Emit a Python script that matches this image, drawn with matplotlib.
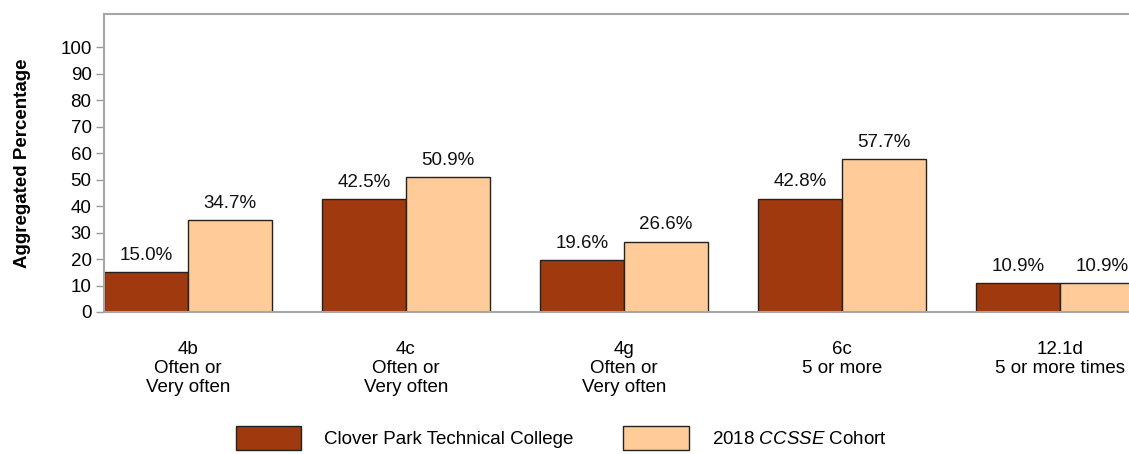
import matplotlib
matplotlib.use("Agg")
import matplotlib.pyplot as plt
import numpy as np

categories = ["4b\nOften or\nVery often", "4c\nOften or\nVery often", "4g\nOften or\nVery often",
              "6c\n5 or more", "12.1d\n5 or more times"]
college = [15.0, 42.5, 19.6, 42.8, 10.9]
cohort = [34.7, 50.9, 26.6, 57.7, 10.9]
series_names = ["Clover Park Technical College", "2018 $\\it{CCSSE}$ Cohort"]
yticks = list(range(0, 101, 10))

plt.rcParams['font.family'] = ['Liberation Sans', 'DejaVu Sans']
plt.rcParams['mathtext.fontset'] = 'custom'
plt.rcParams['mathtext.it'] = 'Liberation Sans:italic'
plt.rcParams['mathtext.rm'] = 'Liberation Sans'

FS = 13.5
fig = plt.figure(figsize=(11.29, 4.54), dpi=100)
ax = fig.add_axes([104/1129, 1-312/454, 1-104/1129, (312-14)/454])

x = np.arange(len(categories))
w = 0.385
dark = "#A0390E"
light = "#FFCC99"
b1 = ax.bar(x - w/2, college, w, color=dark, edgecolor="#222222", linewidth=1, label=series_names[0])
b2 = ax.bar(x + w/2, cohort, w, color=light, edgecolor="#222222", linewidth=1, label=series_names[1])
for b in (b1, b2):
    ax.bar_label(b, fmt="%.1f%%", padding=6, fontsize=FS, color="#111111")

ax.set_xlim(-w, -w + 1025/218)
ax.set_ylim(0, 112.5)
ax.set_yticks(yticks)
ax.set_xticks(x)
ax.set_xticklabels(categories, fontsize=FS, linespacing=1.15)
ax.tick_params(axis='x', length=0, pad=21)
ax.tick_params(axis='y', length=6, width=1, color="#999999", labelsize=FS, pad=3)
for s in ["left", "bottom", "top"]:
    ax.spines[s].set_color("#A6A6A6")
    ax.spines[s].set_linewidth(1.5)
ax.spines["right"].set_visible(False)
ax.set_ylabel("Aggregated Percentage", fontsize=FS, fontweight="bold", labelpad=21)

fig.legend(handles=[b1, b2], labels=series_names, loc="lower left",
           bbox_to_anchor=(219/1129, -0.028), ncol=2, frameon=False, fontsize=FS,
           handlelength=3.47, handleheight=1.6, handletextpad=1.23, columnspacing=2.67)

fig.savefig("out.png", dpi=100)
